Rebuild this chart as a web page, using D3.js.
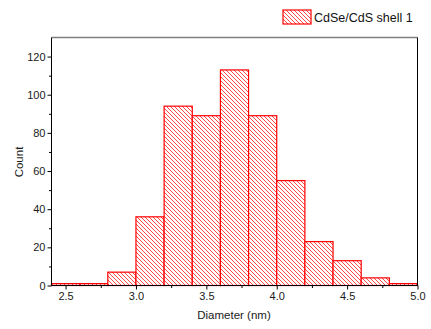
<!DOCTYPE html>
<html>
<head>
<meta charset="utf-8">
<script src="https://cdn.jsdelivr.net/npm/d3@7"></script>
<style>
  html, body { margin: 0; padding: 0; background: #fff; }
  svg { display: block; font-family: "Liberation Sans", Arial, sans-serif; }
</style>
</head>
<body>
<svg id="chart" width="431" height="329"></svg>
<script>
// Histogram bins (nm) and counts
const binStarts = [2.4, 2.6, 2.8, 3.0, 3.2, 3.4, 3.6, 3.8, 4.0, 4.2, 4.4, 4.6, 4.8];
const binWidth = 0.2;
const counts = [1, 1, 7, 36, 94, 89, 113, 89, 55, 23, 13, 4, 1];
const xTicks = [2.5, 3.0, 3.5, 4.0, 4.5, 5.0];
const xMinorTicks = [2.75, 3.25, 3.75, 4.25, 4.75];
const yTicks = [0, 20, 40, 60, 80, 100, 120];
const yMinorTicks = [10, 30, 50, 70, 90, 110];
const seriesName = "CdSe/CdS shell 1";

const svg = d3.select("#chart");
const plotL = 51.5, plotR = 417.5, plotT = 37.5, plotB = 285.5;

const x = d3.scaleLinear().domain([2.4, 5.0]).range([plotL, plotR]);
const y = d3.scaleLinear().domain([0, 130]).range([plotB, plotT]);

// Diagonal hatch fill
const defs = svg.append("defs");
const pat = defs.append("pattern")
  .attr("id", "hatch")
  .attr("patternUnits", "userSpaceOnUse")
  .attr("width", 4).attr("height", 4);
pat.append("rect").attr("width", 4).attr("height", 4).attr("fill", "#fff");
pat.append("path")
  .attr("d", "M-1,-1 L5,5 M-1,3 L1,5 M3,-1 L5,1")
  .attr("stroke", "#ff1a1a").attr("stroke-width", 0.8);

// Bars
const bins = binStarts.map((s, i) => ({ x0: s, x1: s + binWidth, n: counts[i] }));
svg.append("g").selectAll("rect").data(bins).join("rect")
  .attr("x", d => x(d.x0))
  .attr("y", d => y(d.n))
  .attr("width", d => x(d.x1) - x(d.x0))
  .attr("height", d => y(0) - y(d.n))
  .attr("fill", "url(#hatch)")
  .attr("stroke", "#ff0000")
  .attr("stroke-width", 1.2);

// Frame: top in gray, right in black
svg.append("line").attr("x1", plotL).attr("x2", plotR).attr("y1", plotT).attr("y2", plotT)
  .attr("stroke", "#808080").attr("stroke-width", 1.5);
svg.append("line").attr("x1", plotR).attr("x2", plotR).attr("y1", plotT).attr("y2", plotB)
  .attr("stroke", "#000").attr("stroke-width", 1);

// Axes
svg.append("g").attr("transform", `translate(0,${plotB})`)
  .call(d3.axisBottom(x).tickValues(xTicks).tickFormat(d3.format(".1f")).tickSize(4).tickPadding(3));
svg.append("g").attr("transform", `translate(0,${plotB})`)
  .call(d3.axisBottom(x).tickValues(xMinorTicks).tickFormat("").tickSize(2.5));
svg.append("g").attr("transform", `translate(${plotL},0)`)
  .call(d3.axisLeft(y).tickValues(yTicks).tickSize(4).tickPadding(2));
svg.append("g").attr("transform", `translate(${plotL},0)`)
  .call(d3.axisLeft(y).tickValues(yMinorTicks).tickFormat("").tickSize(2.5));

svg.selectAll(".domain").remove();
svg.append("line").attr("x1", plotL).attr("x2", plotR).attr("y1", plotB).attr("y2", plotB)
  .attr("stroke", "#000");
svg.append("line").attr("x1", plotL).attr("x2", plotL).attr("y1", plotT).attr("y2", plotB)
  .attr("stroke", "#000");

svg.selectAll(".tick text")
  .attr("font-family", "'Liberation Sans', Arial, sans-serif")
  .attr("font-size", 11).attr("fill", "#1a1a1a");

// Axis titles
svg.append("text").attr("x", 234).attr("y", 318.5).attr("text-anchor", "middle")
  .attr("font-size", 11.5).attr("fill", "#1a1a1a").text("Diameter (nm)");
svg.append("text").attr("transform", "translate(23,162) rotate(-90)")
  .attr("text-anchor", "middle").attr("font-size", 11.5).attr("fill", "#1a1a1a").text("Count");

// Legend
svg.append("rect").attr("x", 283).attr("y", 10).attr("width", 28).attr("height", 14)
  .attr("fill", "url(#hatch)").attr("stroke", "#ff0000").attr("stroke-width", 1.2);
svg.append("text").attr("x", 314).attr("y", 22).attr("font-size", 12.5)
  .attr("fill", "#111").text(seriesName);
</script>
</body>
</html>
